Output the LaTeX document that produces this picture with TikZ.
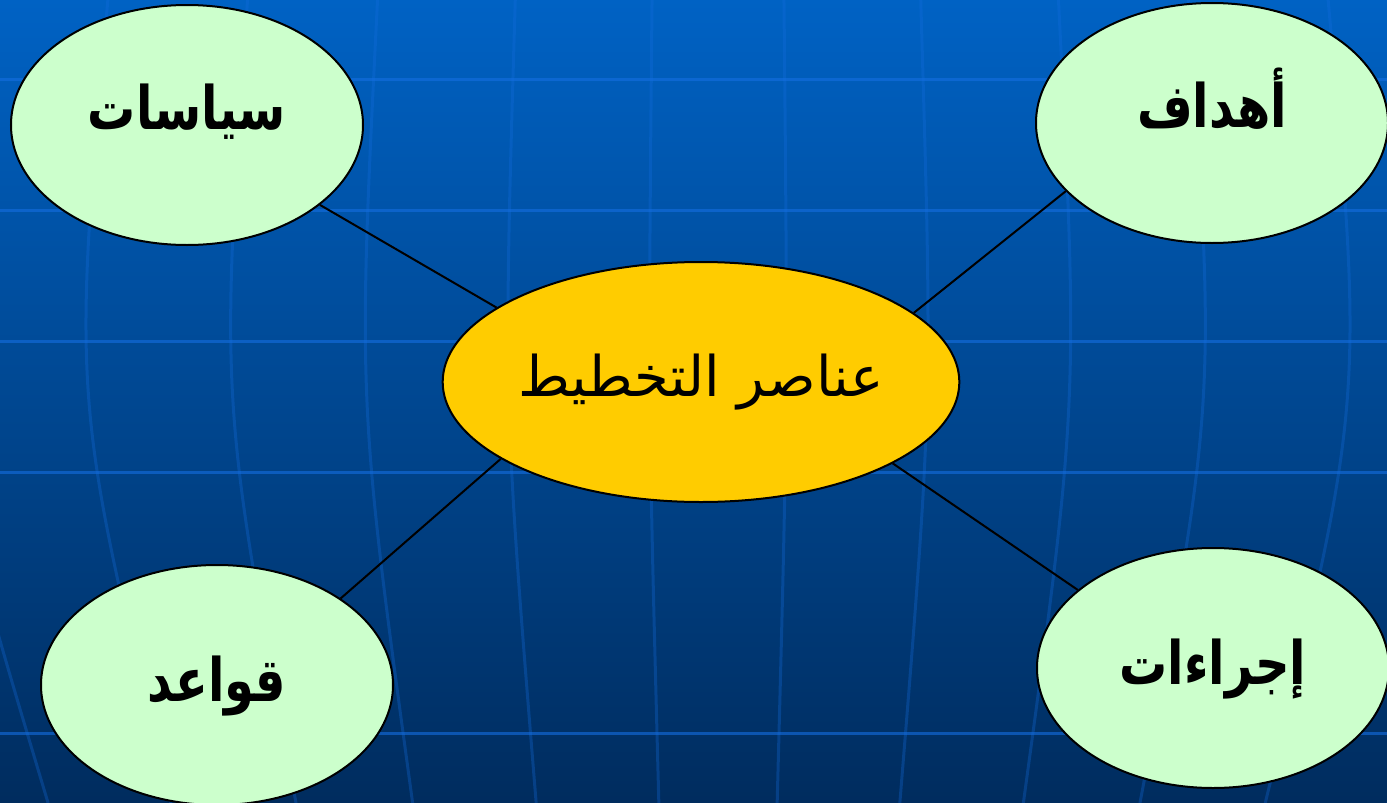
\documentclass[tikz,border=0pt]{standalone}
\usepackage{fontspec}
\usetikzlibrary{shapes.geometric}
\newfontfamily\arabicfont[Script=Arabic]{DejaVu Sans}
\newfontfamily\arabicnarrow[Script=Arabic, FakeStretch=0.8]{DejaVu Sans}
\TeXXeTstate=1
\definecolor{plan_top}{RGB}{0,98,196}
\definecolor{plan_bottom}{RGB}{0,44,94}
\definecolor{plan_grid}{RGB}{20,110,225}
\definecolor{plan_gold}{RGB}{255,204,0}
\definecolor{plan_mint}{RGB}{204,255,204}
\newcommand{\ar}[1]{\beginR #1\endR}

\begin{document}
\begin{tikzpicture}[x=0.5pt, y=-0.5pt,
    grid/.style={plan_grid, line width=1.5pt, opacity=0.6},
    core/.style={ellipse, draw=black, line width=1pt, fill=plan_gold,
                 inner sep=0pt, minimum width=257pt, minimum height=120pt,
                 font=\arabicfont\fontsize{28}{32}\selectfont},
    part/.style={ellipse, draw=black, line width=1pt, fill=plan_mint,
                 inner sep=0pt, minimum width=176pt, minimum height=120pt,
                 font=\arabicnarrow\bfseries\fontsize{30}{36}\selectfont,
                 text height=28pt},
    link/.style={black, line width=1pt}]
  % background
  \clip (0,0) rectangle (1387,803);
  \shade[top color=plan_top, bottom color=plan_bottom] (0,0) rectangle (1387,803);
  \foreach \y in {79,210,341,472,733}
    \draw[grid] (0,\y) -- (1387,\y);
  \foreach \k in {-770,-629,-485,-351,-209,-68,68,209,351,485,629,770}
    \draw[grid, opacity=0.3] ({718+0.97*\k},0)
      .. controls ({718+1.027*\k},400) .. ({718+0.87*\k},803);
  % nodes
  \node[core] (plan) at (701,382) {\ar{عناصر التخطيط}};
  \node[part, text depth=24pt] (policies) at (187,125) {\ar{سياسات}};
  \node[part, text depth=24pt] (goals) at (1212,123) {\ar{أهداف}};
  \node[part, text depth=12pt] (rules) at (217,685) {\ar{قواعد}};
  \node[part, text depth=12pt] (procs) at (1213,668) {\ar{إجراءات}};
  % links
  \draw[link] (policies.-31) -- (plan.160);
  \draw[link] (goals.205) -- (plan.18);
  \draw[link] (rules.35) -- (plan.201);
  \draw[link] (procs.150) -- (plan.-23);
\end{tikzpicture}
\end{document}
